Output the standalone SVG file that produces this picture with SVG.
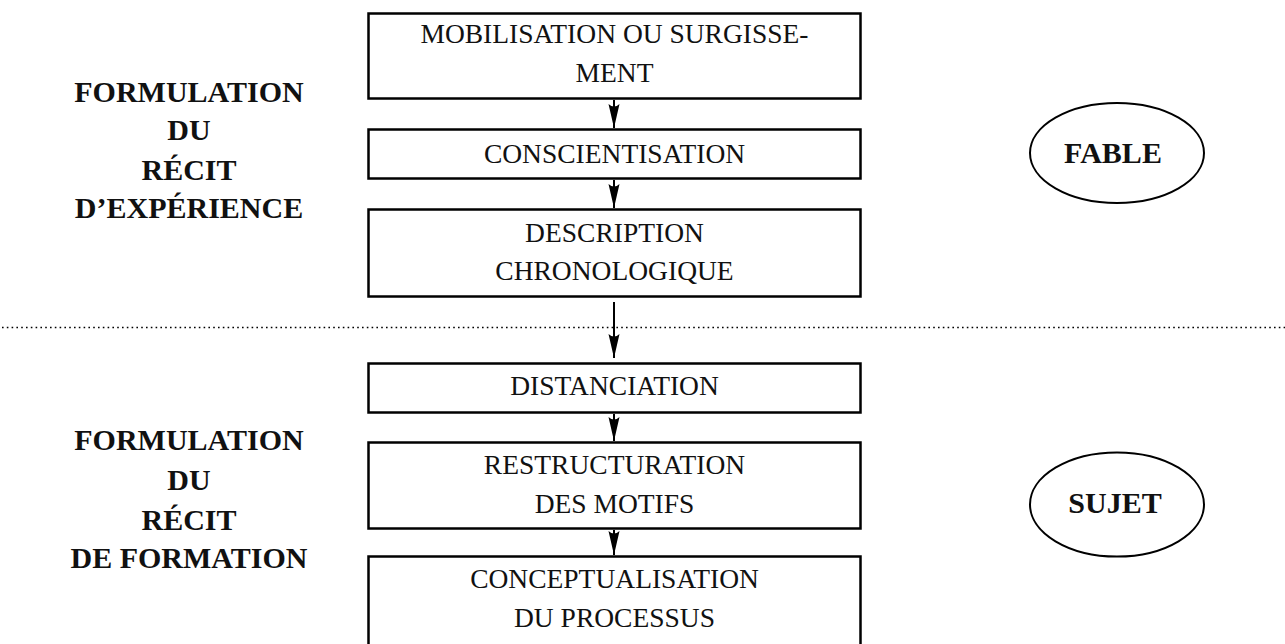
<svg xmlns="http://www.w3.org/2000/svg" width="1285" height="644" viewBox="0 0 1285 644">
<style>
.box{fill:#fff;stroke:#000;stroke-width:2.5}
.ell{fill:#fff;stroke:#000;stroke-width:2}
.t{font-family:"Liberation Serif","Times New Roman",serif;font-size:27.5px;fill:#111;text-anchor:middle}
.b{font-family:"Liberation Serif","Times New Roman",serif;font-size:30px;font-weight:bold;fill:#111;text-anchor:middle}
.con{stroke:#000;stroke-width:2;fill:none;marker-end:url(#ah)}
.dot{stroke:#000;stroke-width:1.6;stroke-dasharray:1.6 3.2;fill:none}
</style>
<defs>
<marker id="ah" markerUnits="userSpaceOnUse" viewBox="0 -6 24 12" refX="24" refY="0" markerWidth="24" markerHeight="12" orient="auto">
<path d="M0,-5.5 L24,0 L0,5.5 Q5,0 0,-5.5 Z" fill="#000"/>
</marker>
</defs>
<rect width="1285" height="644" fill="#fff"/>
<line class="dot" x1="2" y1="327.5" x2="1285" y2="327.5"/>
<g id="connectors">
<line class="con" x1="614" y1="100" x2="614" y2="128"/>
<line class="con" x1="614" y1="180" x2="614" y2="208"/>
<line class="con" x1="614" y1="302" x2="614" y2="358"/>
<line class="con" x1="614" y1="414" x2="614" y2="441"/>
<line class="con" x1="614" y1="530" x2="614" y2="555"/>
</g>
<g id="n1"><rect class="box" x="368.5" y="13.5" width="492" height="85"/>
<text class="t" x="614.5" y="43">MOBILISATION OU SURGISSE-</text>
<text class="t" x="614.5" y="82">MENT</text></g>
<g id="n2"><rect class="box" x="368.5" y="129.5" width="492" height="49"/>
<text class="t" x="614.5" y="163">CONSCIENTISATION</text></g>
<g id="n3"><rect class="box" x="368.5" y="209.5" width="492" height="87"/>
<text class="t" x="614.5" y="242">DESCRIPTION</text>
<text class="t" x="614.5" y="280">CHRONOLOGIQUE</text></g>
<g id="n4"><rect class="box" x="368.5" y="363.5" width="492" height="49"/>
<text class="t" x="614.5" y="395">DISTANCIATION</text></g>
<g id="n5"><rect class="box" x="368.5" y="442.5" width="492" height="86"/>
<text class="t" x="614.5" y="474">RESTRUCTURATION</text>
<text class="t" x="614.5" y="513">DES MOTIFS</text></g>
<g id="n6"><rect class="box" x="368.5" y="556.5" width="492" height="100"/>
<text class="t" x="614.5" y="588">CONCEPTUALISATION</text>
<text class="t" x="614.5" y="627">DU PROCESSUS</text></g>
<g id="label-top">
<text class="b" x="189" y="102">FORMULATION</text>
<text class="b" x="189" y="140">DU</text>
<text class="b" x="189" y="180">RÉCIT</text>
<text class="b" x="189" y="218">D’EXPÉRIENCE</text>
</g>
<g id="label-bottom">
<text class="b" x="189" y="450">FORMULATION</text>
<text class="b" x="189" y="490">DU</text>
<text class="b" x="189" y="530">RÉCIT</text>
<text class="b" x="189" y="568">DE FORMATION</text>
</g>
<g id="fable"><ellipse class="ell" cx="1117" cy="153" rx="87" ry="50"/>
<text class="b" x="1113" y="163">FABLE</text></g>
<g id="sujet"><ellipse class="ell" cx="1117" cy="504.5" rx="87" ry="52"/>
<text class="b" x="1115" y="513">SUJET</text></g>
</svg>
